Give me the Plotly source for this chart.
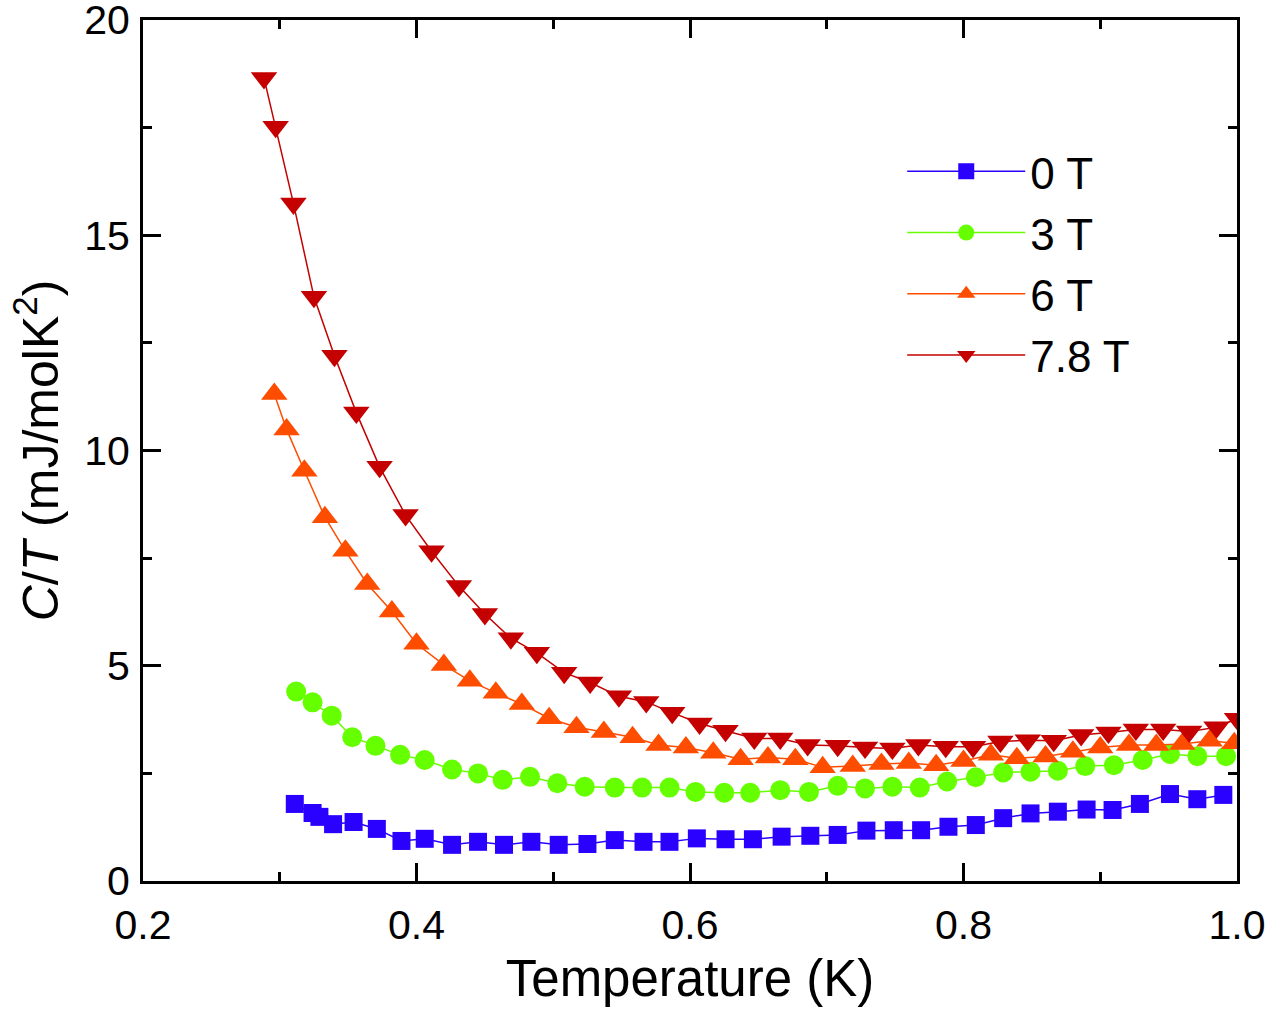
import plotly.graph_objects as go

# ---- data ----
x_0T = [0.311, 0.324, 0.329, 0.339, 0.354, 0.371, 0.389, 0.406, 0.426, 0.445, 0.464, 0.484, 0.504,
        0.525, 0.545, 0.566, 0.585, 0.605, 0.626, 0.646, 0.667, 0.688, 0.708, 0.729, 0.749, 0.769,
        0.789, 0.809, 0.829, 0.849, 0.869, 0.890, 0.909, 0.929, 0.951, 0.971, 0.990]
y_0T = [1.79, 1.58, 1.49, 1.32, 1.37, 1.21, 0.93, 0.98, 0.84, 0.91, 0.84, 0.91, 0.84,
        0.86, 0.95, 0.91, 0.91, 0.99, 0.97, 0.97, 1.03, 1.05, 1.07, 1.17, 1.18, 1.18,
        1.26, 1.30, 1.46, 1.57, 1.61, 1.66, 1.65, 1.79, 2.02, 1.90, 2.00]

x_3T = [0.312, 0.324, 0.338, 0.353, 0.370, 0.388, 0.406, 0.426, 0.445, 0.463, 0.483, 0.503,
        0.523, 0.545, 0.565, 0.585, 0.604, 0.625, 0.644, 0.666, 0.687, 0.708, 0.728, 0.748,
        0.768, 0.788, 0.809, 0.829, 0.849, 0.869, 0.889, 0.910, 0.931, 0.951, 0.971, 0.992]
y_3T = [4.40, 4.15, 3.84, 3.34, 3.14, 2.93, 2.81, 2.59, 2.50, 2.35, 2.42, 2.27,
        2.19, 2.17, 2.17, 2.17, 2.07, 2.05, 2.05, 2.11, 2.07, 2.21, 2.15, 2.19,
        2.17, 2.31, 2.41, 2.52, 2.54, 2.56, 2.67, 2.69, 2.81, 2.95, 2.90, 2.90]

x_6T = [0.296, 0.305, 0.318, 0.333, 0.348, 0.364, 0.382, 0.400, 0.420, 0.439, 0.458, 0.477,
        0.497, 0.517, 0.537, 0.558, 0.577, 0.597, 0.617, 0.637, 0.657, 0.677, 0.697, 0.719,
        0.740, 0.760, 0.780, 0.800, 0.820, 0.839, 0.860, 0.880, 0.900, 0.921, 0.941, 0.960,
        0.980, 0.998]
y_6T = [11.31, 10.49, 9.53, 8.45, 7.67, 6.90, 6.26, 5.51, 5.02, 4.65, 4.37, 4.11,
        3.78, 3.57, 3.46, 3.34, 3.16, 3.10, 2.98, 2.83, 2.87, 2.83, 2.64, 2.67,
        2.72, 2.74, 2.69, 2.79, 2.93, 2.85, 2.89, 3.00, 3.10, 3.16, 3.16, 3.18,
        3.26, 3.20]

x_78T = [0.2885, 0.297, 0.310, 0.325, 0.340, 0.356, 0.373, 0.392, 0.411, 0.431, 0.450, 0.469,
         0.488, 0.508, 0.527, 0.548, 0.568, 0.587, 0.607, 0.626, 0.647, 0.666, 0.686, 0.708,
         0.728, 0.748, 0.767, 0.787, 0.807, 0.827, 0.847, 0.866, 0.886, 0.906, 0.926, 0.946,
         0.965, 0.985, 1.0]
y_78T = [18.65, 17.52, 15.74, 13.57, 12.20, 10.88, 9.62, 8.50, 7.66, 6.85, 6.20, 5.64,
         5.30, 4.84, 4.61, 4.29, 4.16, 3.91, 3.66, 3.49, 3.31, 3.31, 3.16, 3.14,
         3.10, 3.08, 3.16, 3.12, 3.12, 3.24, 3.27, 3.26, 3.39, 3.45, 3.52, 3.52,
         3.47, 3.57, 3.77]

series_names = ["0 T", "3 T", "6 T", "7.8 T"]
x_ticks = [0.2, 0.4, 0.6, 0.8, 1.0]
x_tick_labels = ["0.2", "0.4", "0.6", "0.8", "1.0"]
y_ticks = [0, 5, 10, 15, 20]

FONT = "Liberation Sans, Arial, sans-serif"

styles = [
    dict(color="#2A00FF", symbol="square", size=18),
    dict(color="#66FF00", symbol="circle", size=20),
    dict(color="#FF4D00", symbol="triangle-up", size=23),
    dict(color="#C40000", symbol="triangle-down", size=23),
]
data = [(x_0T, y_0T), (x_3T, y_3T), (x_6T, y_6T), (x_78T, y_78T)]

fig = go.Figure()
for i, ((xs, ys), name, st) in enumerate(zip(data, series_names, styles)):
    fig.add_trace(go.Scatter(
        x=xs, y=ys, name=name, mode="lines+markers",
        legendgroup=f"g{i}",
        line=dict(color=st["color"], width=1.5),
        marker=dict(color=st["color"], symbol=st["symbol"], size=st["size"],
                    line=dict(width=0)),
    ))

axis_common = dict(
    showgrid=False, zeroline=False,
    showline=True, linecolor="black", linewidth=3,
    mirror="ticks", ticks="inside", ticklen=18, tickwidth=3, tickcolor="black",
    tickfont=dict(family=FONT, size=41, color="black"),
    ticklabeloverflow="allow",
    automargin=False,
)

fig.update_xaxes(
    range=[0.2, 1.0], tickvals=x_ticks, ticktext=x_tick_labels,
    minor=dict(dtick=0.1, ticks="inside", ticklen=9, tickwidth=3, tickcolor="black"),
    ticklabelstandoff=6,
    title=dict(text="Temperature (K)", font=dict(family=FONT, size=51, color="black"),
               standoff=14),
    **axis_common,
)
fig.update_yaxes(
    range=[0, 20], tickvals=y_ticks,
    minor=dict(dtick=2.5, ticks="inside", ticklen=9, tickwidth=3, tickcolor="black"),
    ticklabelstandoff=2,
    title=dict(text="<i>C</i>/<i>T</i> (mJ/molK<sup>2</sup>)",
               font=dict(family=FONT, size=50, color="black"), standoff=10),
    **axis_common,
)

fig.update_layout(
    width=1267, height=1011,
    margin=dict(l=143, r=30, t=20, b=130),
    paper_bgcolor="white", plot_bgcolor="white",
    font=dict(family=FONT, color="black"),
    legend=dict(
        x=0.694, y=0.865, xanchor="left", yanchor="top",
        bgcolor="rgba(0,0,0,0)", borderwidth=0,
        font=dict(family=FONT, size=44, color="black"),
        itemwidth=118, tracegroupgap=1,
    ),
)

fig.write_html("out.html")
